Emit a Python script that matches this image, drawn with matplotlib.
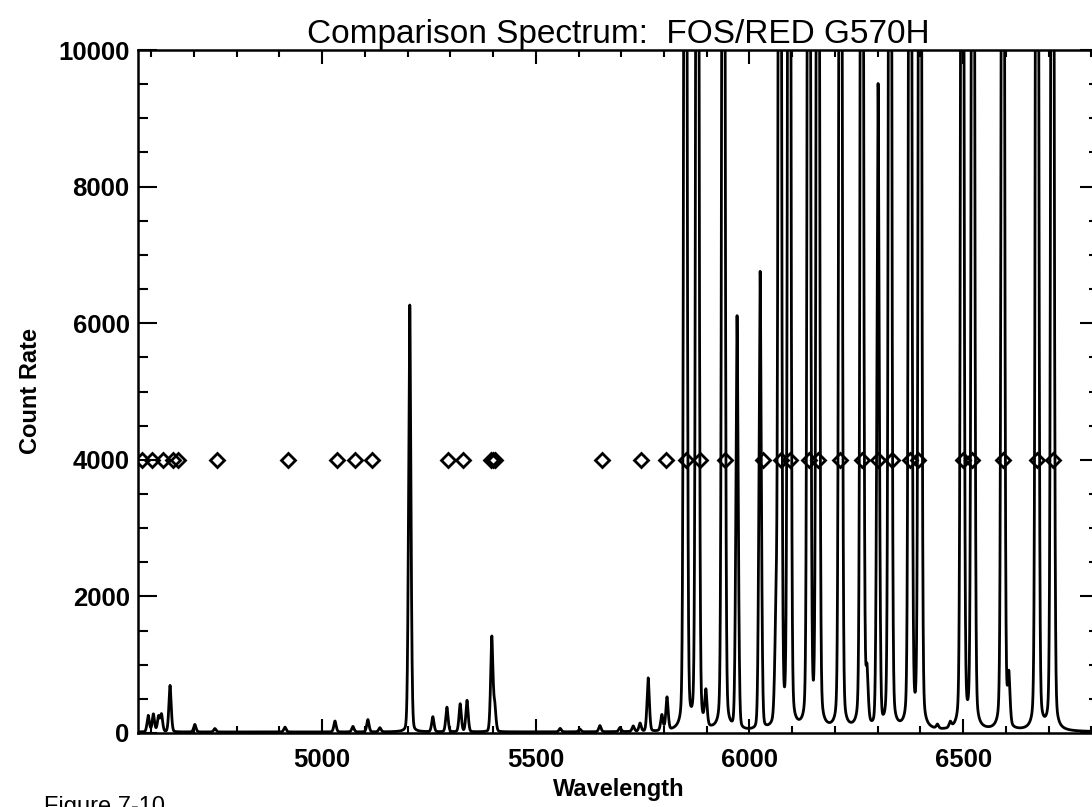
import numpy as np
import matplotlib.pyplot as plt
from matplotlib.ticker import MultipleLocator

plt.rcParams['font.family'] = ['Liberation Sans', 'DejaVu Sans']

# emission lines: centre wavelength and peak count rate
# (peaks of 30000 are the lines that run off the top of the plot)
line_wave = [4593, 4605, 4617, 4624, 4644, 4702, 4749, 4913, 5030, 5072,
             5107, 5135, 5205, 5259, 5292, 5323, 5339, 5397, 5404, 5557,
             5603, 5650, 5697, 5728, 5744, 5763, 5795, 5807, 5850, 5878,
             5898, 5939, 5971, 6025, 6062, 6071, 6093, 6139, 6160, 6213,
             6263, 6275, 6301, 6329, 6376, 6399, 6440, 6470, 6498, 6523,
             6593, 6607, 6673, 6709]
line_peak = [240, 260, 220, 250, 680, 110, 50, 70, 160, 80,
             180, 60, 6250, 220, 360, 410, 460, 1380, 350, 50,
             40, 90, 60, 80, 120, 780, 230, 480, 30000, 30000,
             500, 30000, 6040, 6700, 1400, 30000, 30000, 30000, 30000, 30000,
             30000, 700, 9400, 30000, 30000, 30000, 60, 80, 30000, 30000,
             30000, 700, 30000, 30000]

# wavelengths of the identified lines (diamonds)
id_wave = [4578, 4602, 4627, 4651, 4663, 4754, 4920, 5035, 5077, 5117,
           5294, 5330, 5396, 5400, 5404, 5655, 5746, 5805, 5851, 5884,
           5943, 6032, 6074, 6095, 6139, 6160, 6212, 6263, 6301, 6334,
           6376, 6394, 6500, 6521, 6593, 6673, 6710]
id_level = 4000

continuum = 15

wave = np.arange(4569, 6818.25, 0.25)
flux = np.full(wave.shape, float(continuum))
for c, p in zip(line_wave, line_peak):
    d = wave - c
    # gaussian core with weaker lorentzian wings
    flux += p * (0.7 * np.exp(-0.5 * (d / 3.0) ** 2) + 0.3 / (1.0 + (d / 2.0) ** 2))

fig = plt.figure(figsize=(10.92, 8.07), dpi=100)
ax = fig.add_axes([138 / 1092, 74 / 807, 961 / 1092, 683 / 807])

ax.plot(wave, flux, color='black', lw=2.0)
ax.plot(id_wave, [id_level] * len(id_wave), linestyle='none', marker='D',
        ms=7.5, mfc='none', mec='black', mew=2.0)

ax.set_xlim(4569, 6818)
ax.set_ylim(0, 10000)
ax.set_xticks([5000, 5500, 6000, 6500])
ax.xaxis.set_minor_locator(MultipleLocator(100))
ax.yaxis.set_major_locator(MultipleLocator(2000))
ax.yaxis.set_minor_locator(MultipleLocator(500))

ax.tick_params(which='both', direction='in', top=True, right=True, width=1.5)
ax.tick_params(axis='x', which='major', length=10, pad=11)
ax.tick_params(axis='x', which='minor', length=5)
ax.tick_params(axis='y', which='major', length=14, pad=6)
ax.tick_params(axis='y', which='minor', length=7)
for lab in ax.get_xticklabels() + ax.get_yticklabels():
    lab.set_fontsize(18.5)
    lab.set_fontweight('bold')
for sp in ax.spines.values():
    sp.set_linewidth(1.8)

ax.set_title('Comparison Spectrum:  FOS/RED G570H', fontsize=24, pad=4)
ax.set_xlabel('Wavelength', fontsize=17, fontweight='bold', labelpad=4)
ax.set_ylabel('Count Rate', fontsize=17, fontweight='bold', labelpad=12)

fig.text(44 / 1092, 11 / 807, 'Figure 7-10', fontsize=17, va='top')

fig.savefig('out.png', dpi=100)
